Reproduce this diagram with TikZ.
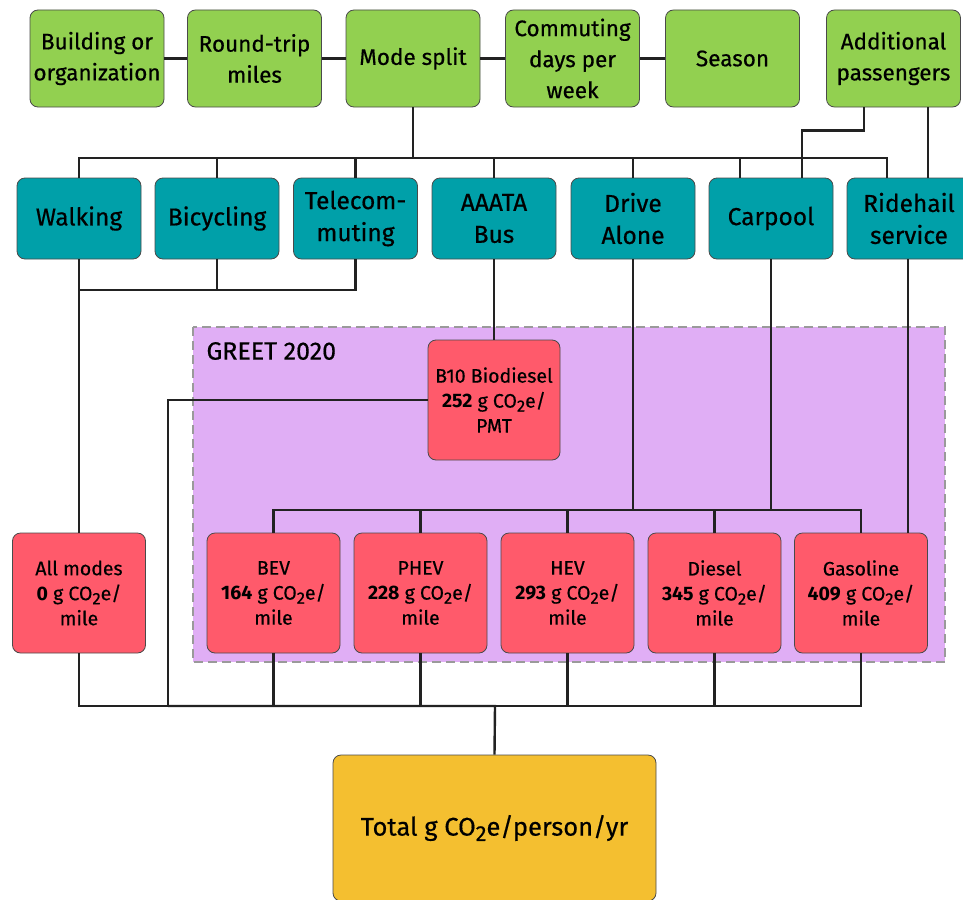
\documentclass[tikz,border=0pt]{standalone}
\usepackage{fontspec}
\setmainfont{Fira Sans}[UprightFeatures={FakeBold=0.5}]
\usetikzlibrary{positioning}

\definecolor{inputgreen}{HTML}{92D050}
\definecolor{modeteal}{HTML}{00A0A9}
\definecolor{factorred}{HTML}{FF5A6B}
\definecolor{greetlilac}{HTML}{E0AEF5}
\definecolor{totalgold}{HTML}{F4BF30}
\definecolor{boxedge}{HTML}{4A4A4A}
\definecolor{linkgray}{HTML}{222222}
\definecolor{dashgray}{HTML}{9A9A9A}

\tikzset{
  box/.style={draw=boxedge, line width=0.8pt, rounded corners=8pt, align=center, inner sep=2pt},
  input/.style={box, fill=inputgreen, minimum width=134pt, minimum height=97pt, font=\fontsize{22.5}{31}\selectfont},
  mode/.style={box, fill=modeteal, minimum width=124pt, minimum height=81pt, font=\fontsize{24.5}{32}\selectfont},
  factor/.style={box, fill=factorred, minimum width=133pt, minimum height=120pt, font=\fontsize{19.5}{25}\selectfont},
  link/.style={line width=2.4pt, draw=linkgray},
}

\newcommand{\cotwo}{CO\raisebox{-0.4ex}{\scalebox{0.85}{2}}e/}

\begin{document}
\begin{tikzpicture}[x=1pt,y=-1pt]
  \useasboundingbox (0,0) rectangle (963,899);

  \draw[fill=greetlilac, draw=dashgray, line width=2pt, dash pattern=on 9pt off 5pt] (193,327) rectangle (945,662);
  \node (greet) [anchor=west, font=\fontsize{25}{28}\selectfont] at (203,351) {GREET 2020};

  \node (bldg) [input] at (97,58.5) {Building or\\organization};
  \node (trip) [input] at (254.5,58.5) {Round-trip\\miles};
  \node (split) [input] at (413,58.5) {Mode split};
  \node (days) [input] at (572.5,58.5) {Commuting\\days per\\week};
  \node (season) [input] at (732.5,58.5) {Season};
  \node (addl) [input] at (893.5,58.5) {Additional\\passengers};

  \node (walk) [mode] at (79,218.5) {Walking};
  \node (bike) [mode] at (217,218.5) {Bicycling};
  \node (tele) [mode] at (355.5,218.5) {Telecom-\\muting};
  \node (bus) [mode] at (494,218.5) {AAATA\\Bus};
  \node (drive) [mode] at (633,218.5) {Drive\\Alone};
  \node (carpool) [mode] at (771,218.5) {Carpool};
  \node (ride) [mode] at (909,218.5) {Ridehail\\service};

  \node (b10) [factor, minimum width=132pt] at (494,400) {B10 Biodiesel\\\textbf{252} g \cotwo\\PMT};
  \node (allmodes) [factor] at (79,593) {All modes\\\textbf{0} g \cotwo\\mile};
  \node (bev) [factor] at (273.5,593) {BEV\\\textbf{164} g \cotwo\\mile};
  \node (phev) [factor] at (420.5,593) {PHEV\\\textbf{228} g \cotwo\\mile};
  \node (hev) [factor] at (567.5,593) {HEV\\\textbf{293} g \cotwo\\mile};
  \node (diesel) [factor] at (714.5,593) {Diesel\\\textbf{345} g \cotwo\\mile};
  \node (gas) [factor] at (861,593) {Gasoline\\\textbf{409} g \cotwo\\mile};

  \node (total) [box, fill=totalgold, minimum width=323pt, minimum height=146pt, font=\fontsize{25.5}{30}\selectfont] at (494.5,828) {Total g \cotwo person/yr};

  \coordinate (topbus) at (413,158);
  \coordinate (walkbus) at (217,290);
  \coordinate (carbus) at (633,510);
  \coordinate (sumbus) at (495,706);
  \coordinate (b10drop) at (168,706);

  \path[link]
    (bldg) edge (trip)
    (trip) edge (split)
    (split) edge (days)
    (days) edge (season);

  \draw[link] (split.south) -- (topbus);
  \foreach \m in {walk,bike,tele,bus,drive}
    \draw[link] (\m.north) |- (topbus);
  \draw[link] ([xshift=-31pt]carpool.north) |- (topbus);
  \draw[link] ([xshift=-22pt]ride.north) |- (topbus);
  \draw[link] ([xshift=-29.5pt]addl.south) -- ++(0,23) -| ([xshift=31pt]carpool.north);
  \draw[link] ([xshift=34.5pt]addl.south) -- ([xshift=34.5pt]addl.south |- ride.north);

  \draw[link] (walk.south) -- (allmodes.north);
  \draw[link] (bike.south) |- (walk.south |- walkbus);
  \draw[link] (tele.south) |- (walkbus);
  \draw[link] (bus.south) -- (b10.north);
  \draw[link] (b10.west) -| (b10drop);
  \draw[link] (drive.south) -- (carbus);
  \draw[link] (carpool.south) |- (carbus);
  \draw[link] ([xshift=-1pt]ride.south) -- ([xshift=-1pt]ride.south |- gas.north);

  \foreach \v in {bev,phev,hev,diesel,gas}
    \draw[link] (\v.north) |- (carbus);
  \foreach \v in {allmodes,bev,phev,hev,diesel,gas}
    \draw[link] (\v.south) |- (sumbus);
  \draw[link] (b10drop) -- (sumbus) -- (total.north);
\end{tikzpicture}
\end{document}
